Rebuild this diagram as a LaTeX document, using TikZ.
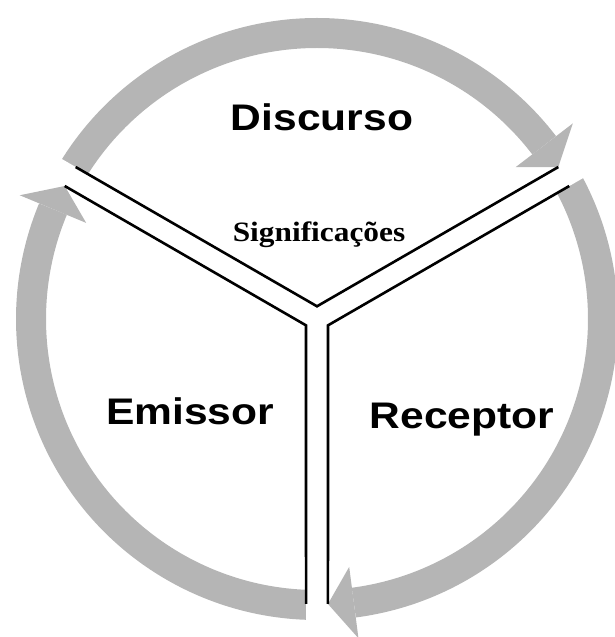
\documentclass[tikz,border=0pt]{standalone}
\usepackage{fontspec}
\usepackage{graphicx}
\setmainfont{Liberation Serif}
\setsansfont{Liberation Sans}
\usepackage{tikz}

\definecolor{ringgray}{RGB}{181,181,181}
\newcommand{\widen}[1]{\scalebox{1.15}[1]{#1}}

\begin{document}
\begin{tikzpicture}[x=1pt,y=1pt,
	band/.style={draw=ringgray,line width=30pt},
	gap/.style={draw=white,line width=22pt},
	head/.style={fill=ringgray},
	wall/.style={draw=black,line width=2.6pt,line join=miter},
	role/.style={font=\sffamily\bfseries\fontsize{37}{44}\selectfont,anchor=base},
	sense/.style={font=\rmfamily\bfseries\fontsize{28}{33}\selectfont,anchor=base}]
	
	\useasboundingbox (-317,-318) rectangle (297,319);
	
	\coordinate (o) at (0,0);
	
	\coordinate (topTail) at (150:286pt);
	\coordinate (topTip) at (32.2:285.2pt);
	\coordinate (rightTail) at (30:286pt);
	\coordinate (rightTip) at (-87.8:285.2pt);
	\coordinate (leftTail) at (270:286pt);
	\coordinate (leftTip) at (152.2:285.2pt);
	
	\coordinate (ulEnd) at (150:330pt);
	\coordinate (urEnd) at (30:330pt);
	\coordinate (dnEnd) at (270:330pt);
	
	\coordinate (apex) at (90:12.7pt);
	\coordinate (emissorCorner) at (210:12.7pt);
	\coordinate (receptorCorner) at (330:12.7pt);
	\coordinate (discursoL) at (147.8:285.2pt);
	\coordinate (discursoR) at (32.2:285.2pt);
	\coordinate (emissorT) at (152.2:285.2pt);
	\coordinate (emissorB) at (267.8:285.2pt);
	\coordinate (receptorT) at (27.8:285.2pt);
	\coordinate (receptorB) at (272.2:285.2pt);
	
	\draw[band] (topTail) arc[start angle=150, end angle=37.4, radius=286pt];
	\draw[band] (rightTail) arc[start angle=30, end angle=-82.6, radius=286pt];
	\draw[band] (leftTail) arc[start angle=270, end angle=157.4, radius=286pt];
	
	\draw[gap] (o) -- (ulEnd);
	\draw[gap] (o) -- (urEnd);
	\draw[gap] (o) -- (dnEnd);
	
	\fill[head] (topTip) -- (37.4:250pt) -- (37.4:322pt) -- cycle;
	\fill[head] (rightTip) -- (-82.6:250pt) -- (-82.6:322pt) -- cycle;
	\fill[head] (leftTip) -- (157.4:250pt) -- (157.4:322pt) -- cycle;
	
	\draw[wall] (discursoL) -- (apex) -- (discursoR);
	\draw[wall] (emissorT) -- (emissorCorner) -- (emissorB);
	\draw[wall] (receptorT) -- (receptorCorner) -- (receptorB);
	
	\node[role] (discurso) at (5,188) {\widen{Discurso}};
	\node[sense] (significacoes) at (2,77) {\scalebox{1.12}[1]{Significações}};
	\node[role] (emissor) at (-127,-105) {\widen{Emissor}};
	\node[role] (receptor) at (145,-109) {\widen{Receptor}};
	\end{tikzpicture}
\end{document}
